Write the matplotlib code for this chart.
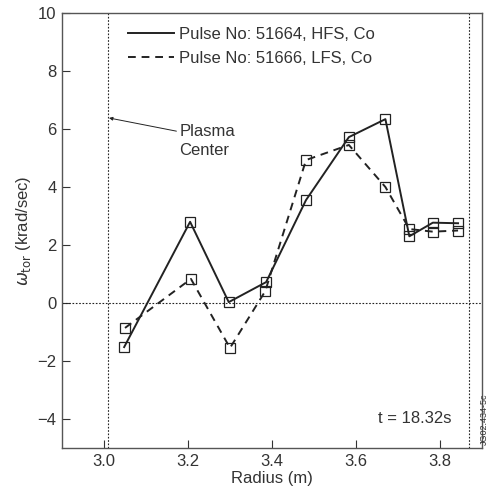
import matplotlib
matplotlib.use("Agg")
import matplotlib.pyplot as plt
from matplotlib.lines import Line2D

plt.rcParams['font.family'] = ['Liberation Sans', 'DejaVu Sans']

# HFS pulse 51664
r_hfs = [3.048, 3.205, 3.297, 3.386, 3.481, 3.583, 3.67, 3.727, 3.783, 3.843]
w_hfs = [-1.52, 2.8, 0.03, 0.72, 3.55, 5.72, 6.34, 2.3, 2.77, 2.75]
# LFS pulse 51666
r_lfs = [3.05, 3.207, 3.3, 3.384, 3.481, 3.583, 3.67, 3.727, 3.783, 3.843]
w_lfs = [-0.86, 0.83, -1.55, 0.41, 4.93, 5.45, 4.0, 2.55, 2.46, 2.5]

lbl_hfs = 'Pulse No: 51664, HFS, Co'
lbl_lfs = 'Pulse No: 51666, LFS, Co'

fig = plt.figure(figsize=(4.89, 4.88), dpi=100)
ax = fig.add_axes([62/489, 40/488, 420/489, 435/488])

ink = '#222222'
txt = '#333333'
ax.plot(r_hfs, w_hfs, '-', color=ink, lw=1.4, marker='s', ms=7,
        mfc='none', mec=ink, mew=0.9)
ax.plot(r_lfs, w_lfs, '--', color=ink, lw=1.4, marker='s', ms=7,
        mfc='none', mec=ink, mew=0.9, dashes=(4, 3))

ax.axhline(0, color=ink, lw=0.8, ls=(0, (1.5, 1.5)))
ax.axvline(3.01, color=ink, lw=0.8, ls=(0, (1.5, 1.5)))
ax.axvline(3.869, color=ink, lw=0.8, ls=(0, (1.5, 1.5)))

ax.set_xlim(2.9, 3.9)
ax.set_ylim(-5, 10)
ax.set_xticks([3.0, 3.2, 3.4, 3.6, 3.8])
ax.set_yticks([-4, -2, 0, 2, 4, 6, 8, 10])
ax.set_xticklabels(['3.0', '3.2', '3.4', '3.6', '3.8'])
ax.set_yticklabels(['\u22124', '\u22122', '0', '2', '4', '6', '8', '10'])
ax.tick_params(direction='in', length=6, width=0.8, labelsize=12,
               colors=txt, pad=4)
for s in ax.spines.values():
    s.set_color('#555555')
    s.set_linewidth(1.0)

ax.set_xlabel('Radius (m)', fontsize=12, color=txt, labelpad=2)
ax.set_ylabel(r'$\omega_{\mathrm{tor}}$ (krad/sec)', fontsize=12,
              color=txt, labelpad=3)

handles = [Line2D([], [], color=ink, lw=1.4),
           Line2D([], [], color=ink, lw=1.4, ls='--', dashes=(4, 3))]
ax.legend(handles, [lbl_hfs, lbl_lfs], loc='upper left',
          bbox_to_anchor=(0.141, 0.983), frameon=False,
          fontsize=12, handlelength=2.75, handletextpad=0.3,
          labelspacing=0.55, borderaxespad=0, labelcolor=txt)

ax.annotate('Plasma\nCenter', xy=(3.012, 6.38), xytext=(3.179, 5.59),
            fontsize=12, color=txt, va='center', ha='left', linespacing=1.3,
            arrowprops=dict(arrowstyle='-|>', color=ink, lw=0.7,
                            mutation_scale=5, shrinkA=0, shrinkB=0,
                            relpos=(-0.02, 0.78)))

ax.text(3.828, -3.97, 't = 18.32s', fontsize=12, color=txt,
        ha='right', va='center')

fig.text(0.99, 0.14, 'JG02.434-5c', rotation=90, fontsize=6.5,
         color=txt, ha='center', va='center')

fig.savefig('out.png', dpi=100)
